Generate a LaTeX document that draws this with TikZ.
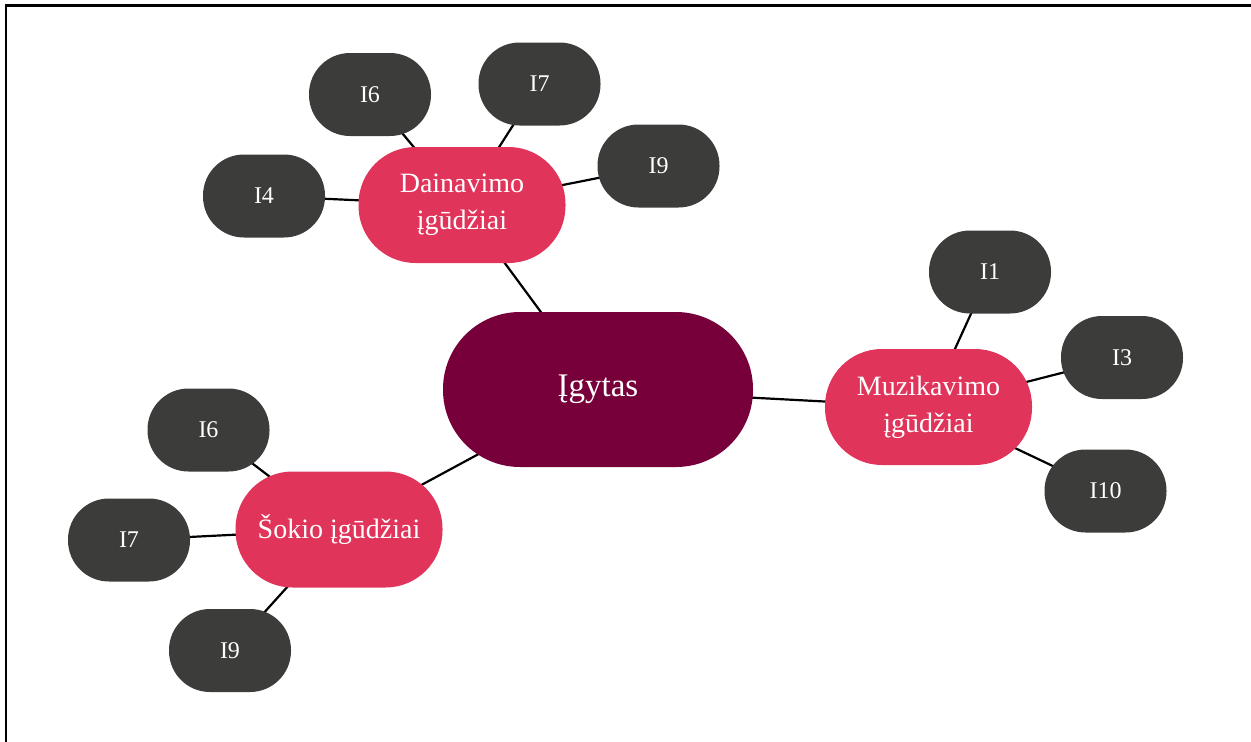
\documentclass[tikz,border=0pt]{standalone}
\usepackage{fontspec}
\setmainfont{Liberation Serif}
\usepackage{tikz}
\usetikzlibrary{backgrounds}
\definecolor{rootred}{RGB}{120,0,58}
\definecolor{skillred}{RGB}{224,52,90}
\definecolor{itemgray}{RGB}{60,60,58}
\tikzset{
    root/.style={
           rectangle,
           fill=rootred,
           rounded corners=77pt,
           minimum width=310pt, minimum height=155pt,
           inner sep=0pt,
           text=white,
           font=\fontsize{33}{40}\selectfont,
           },
}
\tikzset{
    skill/.style={
           rectangle,
           fill=skillred,
           rounded corners=57pt,
           minimum width=207pt, minimum height=116pt,
           inner sep=0pt,
           align=center,
           text=white,
           font=\fontsize{28}{37}\selectfont,
           },
}
\tikzset{
    item/.style={
           rectangle,
           fill=itemgray,
           rounded corners=41pt,
           minimum width=122pt, minimum height=83pt,
           inner sep=0pt,
           text=white,
           font=\fontsize{24}{29}\selectfont,
           },
}
\tikzset{
    link/.style={
           black, line width=2.2pt,
           },
}

\begin{document}
\begin{tikzpicture}[x=1pt,y=-1pt]
\useasboundingbox (0,0) rectangle (1251,742);
\draw[line width=2.6pt] (6,742) -- (6,5.5) -- (1251,5.5);
\node[root] (igytas) at (598,389.5) {Įgytas};
\node[skill] (dain) at (462,205) {Dainavimo\\įgūdžiai};
\node[skill] (muz) at (928.5,407) {Muzikavimo\\įgūdžiai};
\node[skill] (sok) at (339,529.5) {Šokio įgūdžiai};
\node[item] (dI4) at (264,196) {I4};
\node[item] (dI6) at (370,94.5) {I6};
\node[item] (dI7) at (539.5,84) {I7};
\node[item] (dI9) at (658.5,166) {I9};
\node[item] (mI1) at (990,272) {I1};
\node[item] (mI3) at (1122,357.5) {I3};
\begin{scope}
\clip (1000,440) rectangle (1200,533);
\node[item] (mI10) at (1105.5,491) {I10};
\end{scope}
\node[item] (sI6) at (208.5,430) {I6};
\node[item] (sI7) at (129,540) {I7};
\node[item] (sI9) at (230,650.5) {I9};
\begin{scope}[on background layer]
\draw[link] (igytas.center) -- (dain.center);
\draw[link] (igytas.center) -- (muz.center);
\draw[link] (igytas.center) -- (sok.center);
\foreach \n in {dI4,dI6,dI7,dI9}
    \draw[link] (dain.center) -- (\n.center);
\foreach \n in {mI1,mI3,mI10}
    \draw[link] (muz.center) -- (\n.center);
\foreach \n in {sI6,sI7,sI9}
    \draw[link] (sok.center) -- (\n.center);
\end{scope}
\end{tikzpicture}
\end{document}
